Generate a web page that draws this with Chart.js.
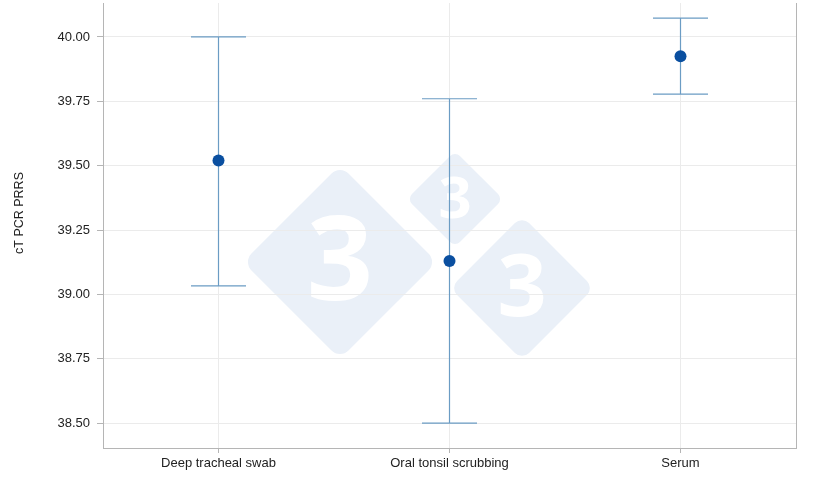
<!DOCTYPE html>
<html><head><meta charset="utf-8">
<script src="https://cdn.jsdelivr.net/npm/chart.js@4.4.0/dist/chart.umd.min.js"></script>
<style>html,body{margin:0;padding:0;background:#fff;}#wrap{width:820px;height:487px;}</style>
</head><body><div id="wrap"><canvas id="c" width="820" height="487"></canvas></div>
<script>
const categories = ["Deep tracheal swab", "Oral tonsil scrubbing", "Serum"];
const means = [39.52, 39.13, 39.925];
const lowers = [39.033, 38.5, 39.778];
const uppers = [40.0, 39.76, 40.073];
const yTicks = [38.5, 38.75, 39.0, 39.25, 39.5, 39.75, 40.0];
const yTitle = 'cT PCR PRRS';

function roundedDiamond(ctx, cx, cy, h, r) {
  ctx.save();
  ctx.translate(cx, cy);
  ctx.rotate(Math.PI / 4);
  const s = h / Math.SQRT2;
  ctx.beginPath();
  ctx.roundRect(-s, -s, 2 * s, 2 * s, r);
  ctx.fillStyle = '#eaf0f8';
  ctx.fill();
  ctx.restore();
  ctx.save();
  ctx.fillStyle = '#ffffff';
  ctx.textAlign = 'center';
  ctx.textBaseline = 'middle';
  ctx.font = 'bold ' + Math.round(h * 1.2) + 'px "Open Sans", "DejaVu Sans", Arial, sans-serif';
  ctx.fillText('3', cx, cy + h * 0.05);
  ctx.restore();
}

const watermark = {
  id: 'watermark',
  beforeDraw(chart) {
    const ctx = chart.ctx;
    roundedDiamond(ctx, 340, 262, 97, 12);
    roundedDiamond(ctx, 455, 199, 48, 7);
    roundedDiamond(ctx, 522, 288, 72, 10);
  }
};

const errorBars = {
  id: 'errorBars',
  beforeDatasetsDraw(chart) {
    const ctx = chart.ctx, x = chart.scales.x, y = chart.scales.y;
    ctx.save();
    ctx.strokeStyle = '#6b9cc4';
    ctx.lineWidth = 1.2;
    categories.forEach((c, i) => {
      const px = x.getPixelForValue(i);
      const yl = y.getPixelForValue(lowers[i]);
      const yu = y.getPixelForValue(uppers[i]);
      ctx.beginPath();
      ctx.moveTo(px, yu); ctx.lineTo(px, yl);
      ctx.moveTo(px - 27.5, yu); ctx.lineTo(px + 27.5, yu);
      ctx.moveTo(px - 27.5, yl); ctx.lineTo(px + 27.5, yl);
      ctx.stroke();
    });
    ctx.restore();
  },
  afterDraw(chart) {
    const ctx = chart.ctx, a = chart.chartArea;
    ctx.save();
    ctx.strokeStyle = '#b5b5b5';
    ctx.lineWidth = 1;
    ctx.beginPath();
    ctx.moveTo(a.right + 0.5, a.top); ctx.lineTo(a.right + 0.5, a.bottom);
    ctx.stroke();
    ctx.translate(20, 213);
    ctx.rotate(-Math.PI / 2);
    ctx.fillStyle = '#222';
    ctx.font = '12.5px Arial, "Liberation Sans", sans-serif';
    ctx.textAlign = 'center';
    ctx.textBaseline = 'middle';
    ctx.fillText(yTitle, 0, 0);
    ctx.restore();
  }
};

new Chart(document.getElementById('c'), {
  type: 'line',
  data: {
    labels: categories,
    datasets: [{
      data: means,
      showLine: false,
      pointRadius: 6,
      pointHoverRadius: 6,
      pointBackgroundColor: '#0a4fa0',
      pointBorderColor: '#0a4fa0',
      pointBorderWidth: 0
    }]
  },
  options: {
    responsive: false,
    animation: false,
    devicePixelRatio: 1,
    layout: { autoPadding: false, padding: { top: 3, right: 24, left: 0, bottom: 0 } },
    plugins: { legend: { display: false }, tooltip: { enabled: false } },
    scales: {
      x: {
        type: 'category',
        offset: true,
        grid: { color: '#ebebeb', tickLength: 5, tickColor: '#b5b5b5', offset: false, drawOnChartArea: true },
        border: { color: '#b5b5b5', width: 1 },
        ticks: { color: '#222', font: { family: 'Arial, "Liberation Sans", sans-serif', size: 13 }, padding: 3 },
        afterFit(s) { s.height = 39; s.paddingLeft = 0; s.paddingRight = 0; }
      },
      y: {
        min: 38.403,
        max: 40.132,
        afterBuildTicks(s) { s.ticks = yTicks.map(v => ({ value: v })); },
        grid: { color: '#ebebeb', drawTicks: true, tickLength: 6, tickColor: '#b5b5b5' },
        border: { color: '#b5b5b5', width: 1 },
        ticks: {
          color: '#222',
          font: { family: 'Arial, "Liberation Sans", sans-serif', size: 13 },
          padding: 7,
          callback: v => Number(v).toFixed(2)
        },
        title: { display: false },
        afterFit(s) { s.width = 103; s.paddingTop = 0; s.paddingBottom = 0; }
      }
    }
  },
  plugins: [watermark, errorBars]
});
</script>
</body></html>
